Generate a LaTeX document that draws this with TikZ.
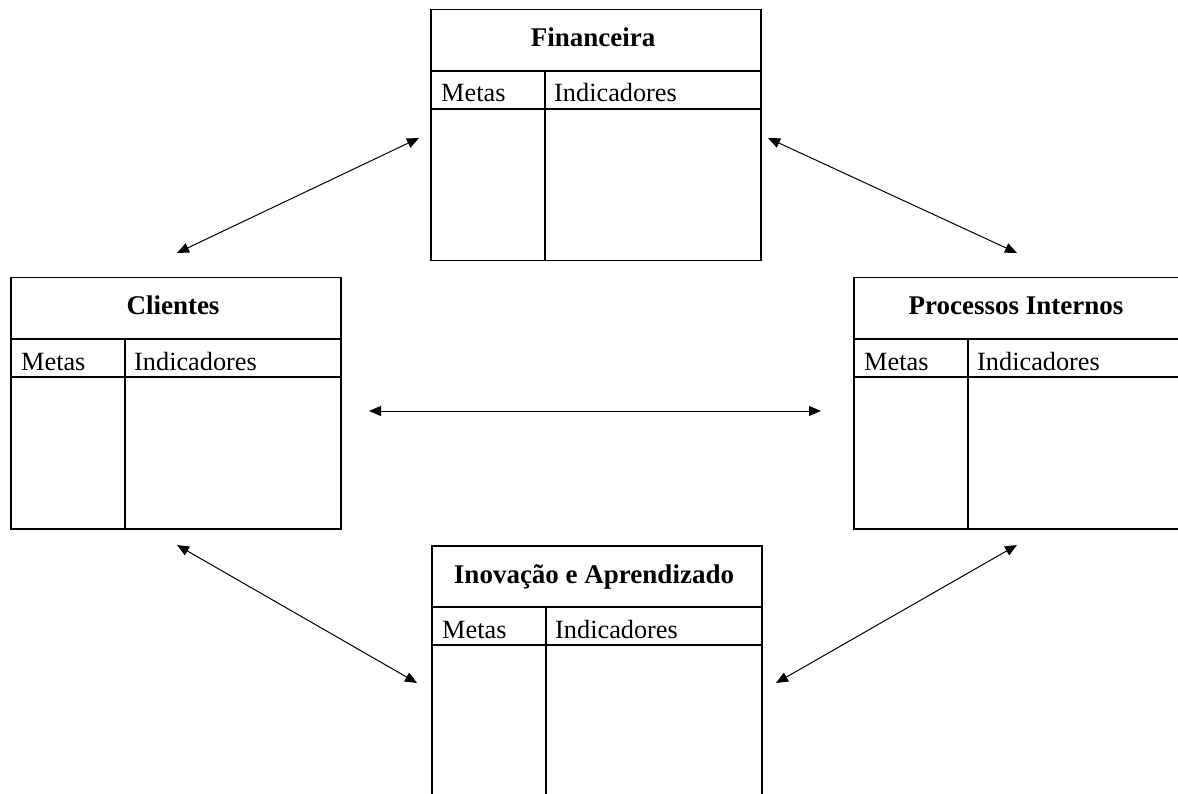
\documentclass[tikz,border=0pt]{standalone}
\usepackage{fontspec}
\setmainfont{Liberation Serif}
\usetikzlibrary{arrows.meta}
\newcommand\perspbox[4]{%
  \node[boxst,anchor=north west] (#1) at (#2,#3) {};
  \draw[ln] ([yshift=-62pt]#1.north west) -- ([yshift=-62pt]#1.north east);
  \draw[ln] ([yshift=-100pt]#1.north west) -- ([yshift=-100pt]#1.north east);
  \draw[ln] ([xshift=115pt,yshift=-62pt]#1.north west) -- ([xshift=115pt]#1.south west);
  \node[ttl] (#1-t) at ([xshift=163pt,yshift=-38pt]#1.north west) {#4};
  \node[lbl] (#1-m) at ([xshift=11pt,yshift=-93pt]#1.north west) {Metas};
  \node[lbl] (#1-i) at ([xshift=124pt,yshift=-93pt]#1.north west) {Indicadores};
}
\begin{document}
\begin{tikzpicture}[x=1pt,y=-1pt,
  boxst/.style={draw=black,line width=1.5pt,minimum width=330pt,minimum height=251pt,inner sep=0pt},
  ln/.style={draw=black,line width=1.5pt},
  ttl/.style={font=\fontsize{27}{32}\selectfont\bfseries,anchor=base,inner sep=0pt},
  lbl/.style={font=\fontsize{26.3}{31}\selectfont,anchor=base west,inner sep=0pt},
  arr/.style={line width=1pt,{Triangle[length=12pt,width=10pt]}-{Triangle[length=12pt,width=10pt]}}]
\useasboundingbox (0,0) rectangle (1178,794);
\clip (0,0) rectangle (1178,794);
\fill[white] (0,0) rectangle (1178,794);
\perspbox{fin}{430}{9}{Financeira}
\perspbox{cli}{10}{277}{Clientes}
\perspbox{pro}{853}{277}{Processos Internos}
\perspbox{ino}{431}{545}{Inovação e Aprendizado}
\coordinate (a1) at (419,138);
\coordinate (a2) at (177,253);
\coordinate (b1) at (768,138);
\coordinate (b2) at (1017,253);
\coordinate (c1) at (369,411);
\coordinate (c2) at (821,411);
\coordinate (d1) at (177,545);
\coordinate (d2) at (417,683);
\coordinate (e1) at (1017,545);
\coordinate (e2) at (776,683);
\draw[arr] (a1) -- (a2);
\draw[arr] (b1) -- (b2);
\draw[arr] (c1) -- (c2);
\draw[arr] (d1) -- (d2);
\draw[arr] (e1) -- (e2);
\end{tikzpicture}
\end{document}
